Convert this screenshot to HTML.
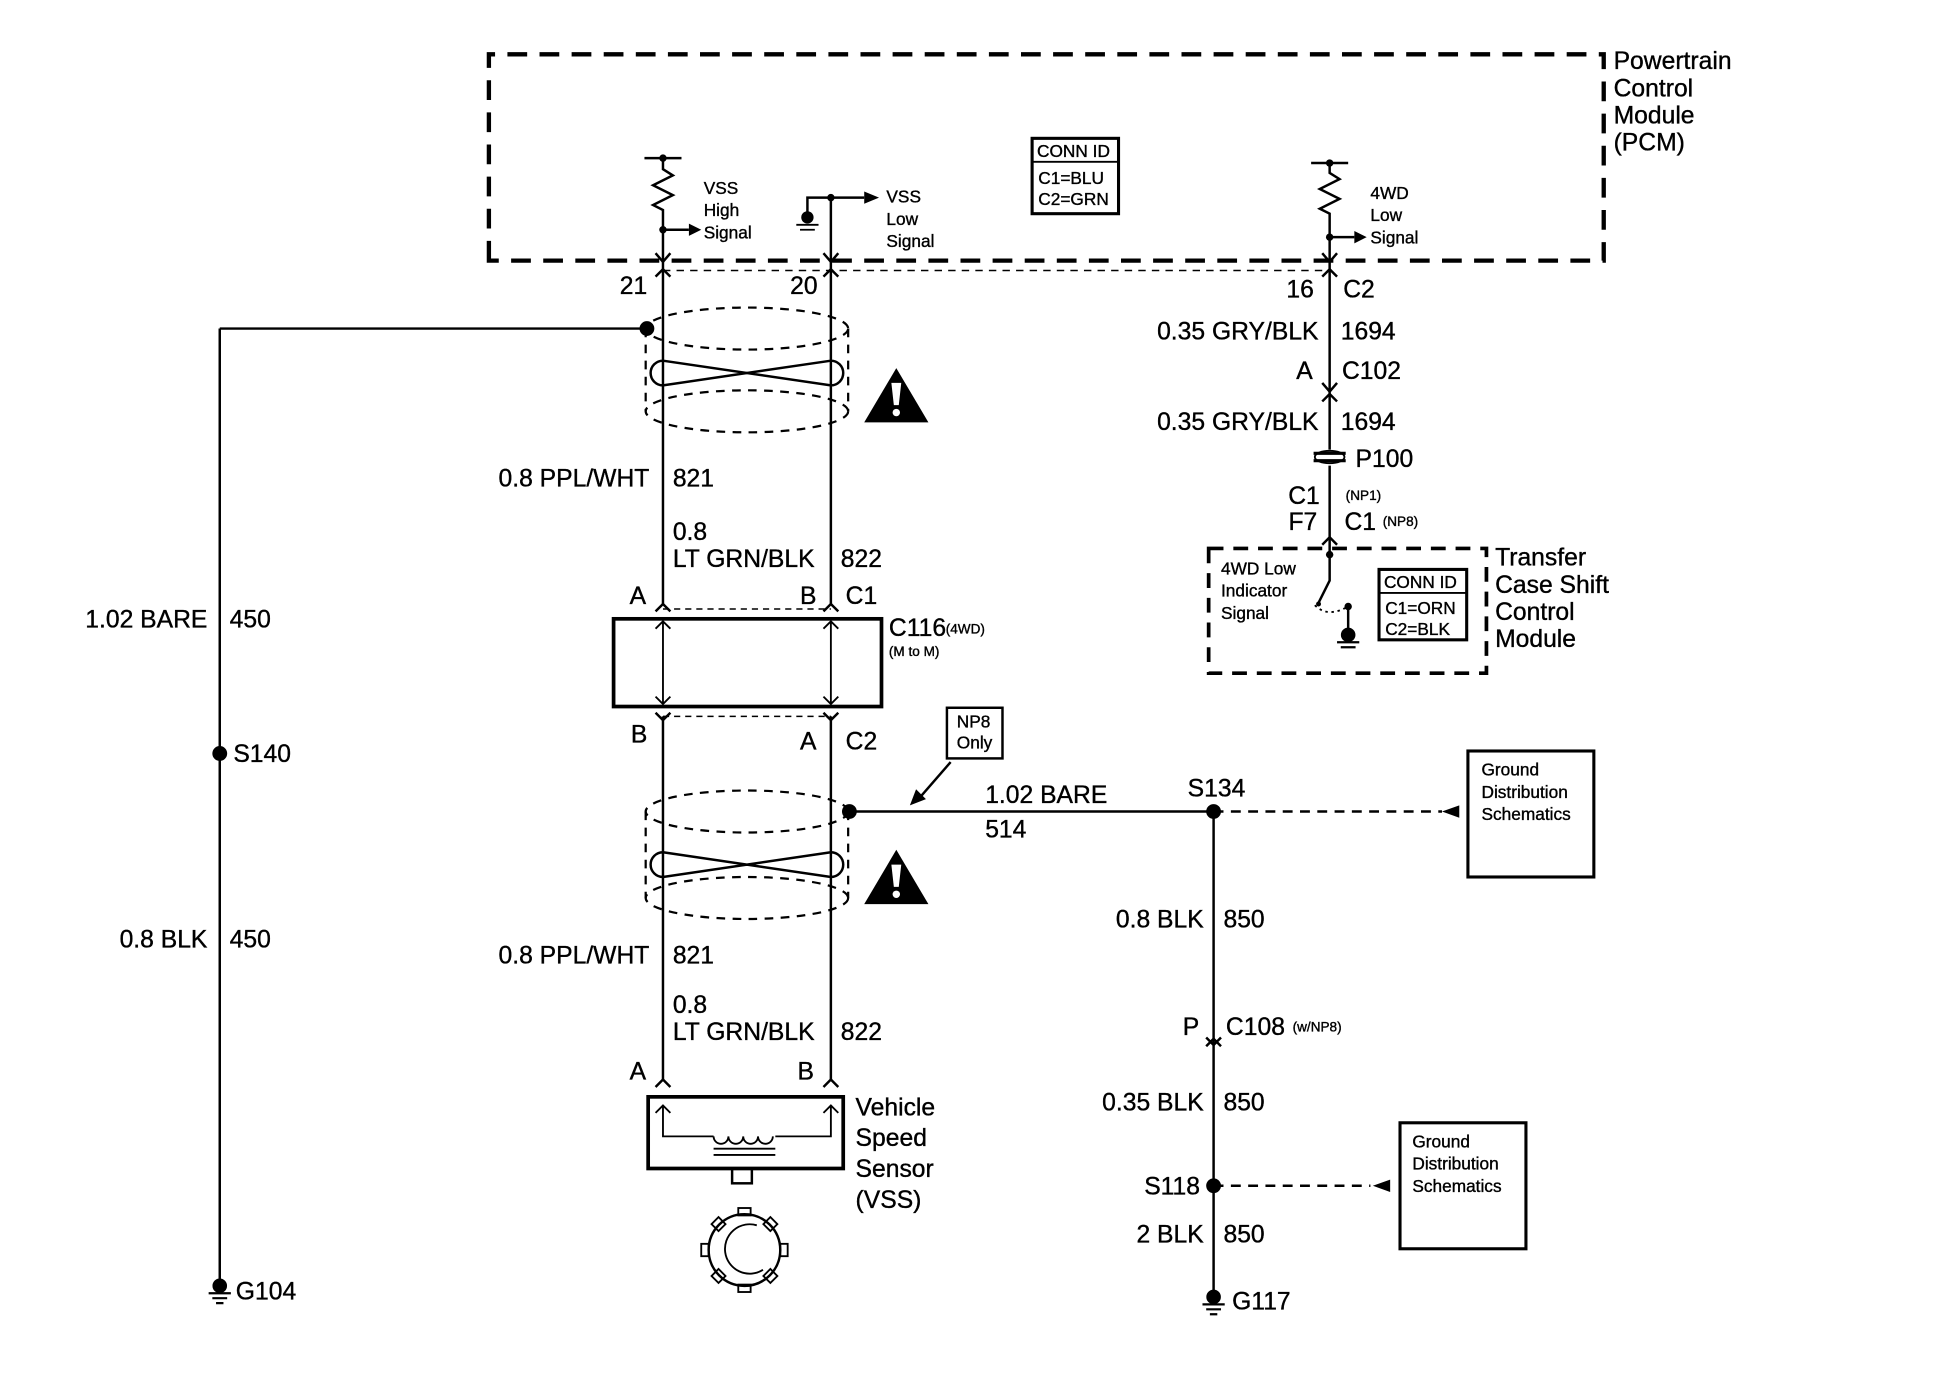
<!DOCTYPE html>
<html><head><meta charset="utf-8"><style>
html,body{margin:0;padding:0;background:#fff}
svg{display:block}
text{font-family:"Liberation Sans",Arial,sans-serif;fill:#000;stroke:#000;stroke-width:0.3}
.l{font-size:20px}
.s{font-size:14px}
.t{font-size:11px}
.r{text-anchor:end}
</style></head><body>
<svg width="1942" height="1376" viewBox="0 0 1573 1114" preserveAspectRatio="none" xmlns="http://www.w3.org/2000/svg">
<g fill="none" stroke="#000" stroke-width="2">
<path d="M396,211 V44 H1299 V211 Z" stroke-width="3.5" stroke-dasharray="16,10"/>
<path d="M537,219 H1077" stroke-width="1.2" stroke-dasharray="6,5"/>
<path d="M522,128 H552 M537,128 V137 l8,5 l-16,8 l16,8 l-16,8 l8,4 V218"/>
<path d="M537,186 H558"/>
<path d="M531,205 l6,7 l6,-7 M531,224 l6,-6 l6,6"/>
<path d="M654,172 V160 H700 M673,160 V218"/>
<path d="M667,205 l6,7 l6,-7 M667,224 l6,-6 l6,6"/>
<path d="M1062,132 H1092 M1077,132 V140 l8,5 l-16,8 l16,8 l-16,8 l8,4 V218"/>
<path d="M1077,192 H1097"/>
<path d="M1071,205 l6,7 l6,-7 M1071,224 l6,-6 l6,6"/>
<path d="M537,219 V490 M673,219 V490 M537,580 V875 M673,580 V875"/>
<path d="M178,266 H524 M178,266 V1040"/>
<g stroke-dasharray="7,6" stroke-width="1.8">
<ellipse cx="605" cy="266" rx="82" ry="17"/>
<ellipse cx="605" cy="333" rx="82" ry="17"/>
<path d="M523,266 V333 M687,266 V333"/>
<ellipse cx="605" cy="657" rx="82" ry="17"/>
<ellipse cx="605" cy="727" rx="82" ry="17"/>
<path d="M523,657 V727 M687,657 V727"/>
</g>
<path d="M537,292 L673,312 A10,10 0 0 0 673,292 L537,312 A10,10 0 0 1 537,292 Z"/>
<path d="M537,690 L673,710 A10,10 0 0 0 673,690 L537,710 A10,10 0 0 1 537,690 Z"/>
<path d="M537,493 H673 M537,580 H673" stroke-width="1.2" stroke-dasharray="5,4"/>
<path d="M531,495 l6,-6 l6,6 M667,495 l6,-6 l6,6 M531,577 l6,6 l6,-6 M667,577 l6,6 l6,-6"/>
<rect x="497" y="501" width="217" height="71" stroke-width="3"/>
<path d="M537,503 V570 M531,509 l6,-6 l6,6 M531,564 l6,6 l6,-6 M673,503 V570 M667,509 l6,-6 l6,6 M667,564 l6,6 l6,-6" stroke-width="1.5"/>
<path d="M687,657 H983 M983,657 V1050"/>
<path d="M983,657 H1168" stroke-dasharray="8,6"/>
<path d="M983,960 H1110" stroke-dasharray="8,6"/>
<rect x="1189" y="608" width="102" height="102" stroke-width="2.5"/>
<rect x="1134" y="909" width="102" height="102" stroke-width="2.5"/>
<rect x="767" y="573" width="45" height="41" stroke-width="2"/>
<path d="M770,617 L743,648"/>
<path d="M531,880 l6,-6 l6,6 M667,880 l6,-6 l6,6"/>
<rect x="525" y="888" width="158" height="58" stroke-width="3"/>
<path d="M537,895 V920 H578 M673,895 V920 H628 M531,901 l6,-6 l6,6 M667,901 l6,-6 l6,6" stroke-width="1.5"/>
<path d="M578,920 a6,6 0 0 0 12,0 a6,6 0 0 0 12,0 a6,6 0 0 0 12,0 a6,6 0 0 0 12,0" stroke-width="1.5"/>
<path d="M578,930 H628 M578,935 H628" stroke-width="1.5"/>
<rect x="593" y="946" width="16" height="12"/>
<circle cx="603" cy="1012" r="29"/>
<path d="M613,992 A20,20 0 1 0 618,1028" stroke-width="1.5"/>
<g stroke-width="1.5">
<rect x="598" y="978" width="10" height="6"/><rect x="598" y="1040" width="10" height="6"/>
<rect x="568" y="1007" width="6" height="10"/><rect x="632" y="1007" width="6" height="10"/>
<rect x="578" y="987" width="8" height="8" transform="rotate(45 582 991)"/>
<rect x="620" y="987" width="8" height="8" transform="rotate(45 624 991)"/>
<rect x="578" y="1029" width="8" height="8" transform="rotate(45 582 1033)"/>
<rect x="620" y="1029" width="8" height="8" transform="rotate(45 624 1033)"/>
</g>
<path d="M1077,219 V364 M1077,377 V450"/>
<path d="M1071,310 l6,7 l6,-7 M1071,325 l6,-6 l6,6 M1071,441 l6,-6 l6,6"/>
<ellipse cx="1077" cy="370" rx="12" ry="5" stroke-width="1.5"/>
<path d="M1064,367 H1090 M1064,373 H1090" stroke-width="2.5"/>
<rect x="979" y="444" width="225" height="101" stroke-width="3" stroke-dasharray="12,8"/>
<path d="M1077,450 V470 L1068,488 M1092,490 V512" stroke-width="2"/>
<path d="M1065,490 Q1075,500 1090,492" stroke-dasharray="2,3" stroke-width="1.5"/>
<rect x="1117" y="461" width="71" height="57" stroke-width="2.5"/>
<path d="M1117,480 H1188" stroke-width="1.5"/>
<rect x="836" y="112" width="70" height="61" stroke-width="2.5"/>
<path d="M836,131 H906" stroke-width="1.5"/>
</g>
<g fill="#000">
<circle cx="537" cy="128" r="3"/><circle cx="537" cy="186" r="3"/>
<path d="M558,181 L568,186 L558,191Z"/>
<circle cx="673" cy="160" r="3"/><path d="M700,155 L712,160 L700,165Z"/>
<circle cx="654" cy="176" r="5"/><path d="M645,182 H663 M648,186 H660" stroke="#000" stroke-width="1.5"/>
<circle cx="1077" cy="132" r="3"/><circle cx="1077" cy="192" r="3"/><path d="M1097,187 L1107,192 L1097,197Z"/>
<circle cx="524" cy="266" r="6"/>
<circle cx="178" cy="610" r="6"/>
<circle cx="688" cy="657" r="6"/>
<circle cx="983" cy="657" r="6"/>
<circle cx="983" cy="960" r="6"/>
<path d="M1182,652 L1168,657 L1182,662Z"/>
<path d="M1126,955 L1112,960 L1126,965Z"/>
<path d="M737,652 L742,639 L750,647Z"/>
<path d="M726,298 L752,342 L700,342Z"/><path d="M726,688 L752,732 L700,732Z"/>
<circle cx="1077" cy="449" r="3"/><circle cx="1068" cy="489" r="2"/><circle cx="1092" cy="491" r="3"/>
<g stroke="#000" stroke-width="1.8">
<circle cx="178" cy="1041" r="5"/><path d="M169,1047 H187 M172,1051 H184 M175,1055 H181"/>
<circle cx="983" cy="1050" r="5"/><path d="M974,1056 H992 M977,1060 H989 M980,1064 H986"/>
<circle cx="1092" cy="514" r="5"/><path d="M1083,520 H1101 M1086,524 H1098"/>
</g>
</g>
<g fill="#fff"><path d="M722,310 h8 l-2,18 h-4Z"/><circle cx="726" cy="334" r="3"/><path d="M722,700 h8 l-2,18 h-4Z"/><circle cx="726" cy="724" r="3"/></g>
<text class="l" x="1307" y="56">Powertrain</text><text class="l" x="1307" y="78">Control</text><text class="l" x="1307" y="100">Module</text><text class="l" x="1307" y="122">(PCM)</text>
<text class="s" x="570" y="157">VSS</text><text class="s" x="570" y="175">High</text><text class="s" x="570" y="193">Signal</text>
<text class="s" x="718" y="164">VSS</text><text class="s" x="718" y="182">Low</text><text class="s" x="718" y="200">Signal</text>
<text class="s" x="1110" y="161">4WD</text><text class="s" x="1110" y="179">Low</text><text class="s" x="1110" y="197">Signal</text>
<text class="s" x="840" y="127">CONN ID</text><text class="s" x="841" y="149">C1=BLU</text><text class="s" x="841" y="166">C2=GRN</text>
<text class="l" x="502" y="238">21</text><text class="l" x="640" y="238">20</text>
<text class="l" x="1042" y="241">16</text><text class="l" x="1088" y="241">C2</text>
<text class="l r" x="168" y="508">1.02 BARE</text><text class="l" x="186" y="508">450</text>
<text class="l" x="189" y="617">S140</text>
<text class="l r" x="168" y="767">0.8 BLK</text><text class="l" x="186" y="767">450</text>
<text class="l" x="191" y="1052">G104</text>
<text class="l r" x="526" y="394">0.8 PPL/WHT</text><text class="l" x="545" y="394">821</text>
<text class="l" x="545" y="437">0.8</text><text class="l" x="545" y="459">LT GRN/BLK</text><text class="l" x="681" y="459">822</text>
<text class="l" x="510" y="489">A</text><text class="l" x="648" y="489">B</text><text class="l" x="685" y="489">C1</text>
<text class="l" x="720" y="515">C116</text><text class="t" x="766" y="513">(4WD)</text><text class="t" x="720" y="531">(M to M)</text>
<text class="l" x="511" y="601">B</text><text class="l" x="648" y="607">A</text><text class="l" x="685" y="607">C2</text>
<text class="s" x="775" y="589">NP8</text><text class="s" x="775" y="606">Only</text>
<text class="l" x="798" y="650">1.02 BARE</text><text class="l" x="798" y="678">514</text>
<text class="l" x="962" y="645">S134</text>
<text class="s" x="1200" y="628">Ground</text><text class="s" x="1200" y="646">Distribution</text><text class="s" x="1200" y="664">Schematics</text>
<text class="s" x="1144" y="929">Ground</text><text class="s" x="1144" y="947">Distribution</text><text class="s" x="1144" y="965">Schematics</text>
<text class="l r" x="526" y="780">0.8 PPL/WHT</text><text class="l" x="545" y="780">821</text>
<text class="l" x="545" y="820">0.8</text><text class="l" x="545" y="842">LT GRN/BLK</text><text class="l" x="681" y="842">822</text>
<text class="l" x="510" y="874">A</text><text class="l" x="646" y="874">B</text>
<text class="l" x="693" y="903">Vehicle</text><text class="l" x="693" y="928">Speed</text><text class="l" x="693" y="953">Sensor</text><text class="l" x="693" y="978">(VSS)</text>
<text class="l r" x="1068" y="275">0.35 GRY/BLK</text><text class="l" x="1086" y="275">1694</text>
<text class="l" x="1050" y="307">A</text><text class="l" x="1087" y="307">C102</text>
<text class="l r" x="1068" y="348">0.35 GRY/BLK</text><text class="l" x="1086" y="348">1694</text>
<text class="l" x="1098" y="378">P100</text>
<text class="l r" x="1069" y="408">C1</text><text class="t" x="1090" y="405">(NP1)</text>
<text class="l r" x="1067" y="429">F7</text><text class="l" x="1089" y="429">C1</text><text class="t" x="1120" y="426">(NP8)</text>
<text class="s" x="989" y="465">4WD Low</text><text class="s" x="989" y="483">Indicator</text><text class="s" x="989" y="501">Signal</text>
<text class="s" x="1121" y="476">CONN ID</text><text class="s" x="1122" y="497">C1=ORN</text><text class="s" x="1122" y="514">C2=BLK</text>
<text class="l" x="1211" y="458">Transfer</text><text class="l" x="1211" y="480">Case Shift</text><text class="l" x="1211" y="502">Control</text><text class="l" x="1211" y="524">Module</text>
<text class="l r" x="975" y="751">0.8 BLK</text><text class="l" x="991" y="751">850</text>
<text class="l" x="958" y="838">P</text><text class="l" x="993" y="838">C108</text><text class="t" x="1047" y="835">(w/NP8)</text>
<text class="l r" x="975" y="899">0.35 BLK</text><text class="l" x="991" y="899">850</text>
<text class="l r" x="972" y="967">S118</text>
<text class="l r" x="975" y="1006">2 BLK</text><text class="l" x="991" y="1006">850</text>
<text class="l" x="998" y="1060">G117</text>
<path d="M977,847 l6,-6 l6,6 M977,840 l6,6 l6,-6" fill="none" stroke="#000" stroke-width="2"/>
</svg>
</body></html>
